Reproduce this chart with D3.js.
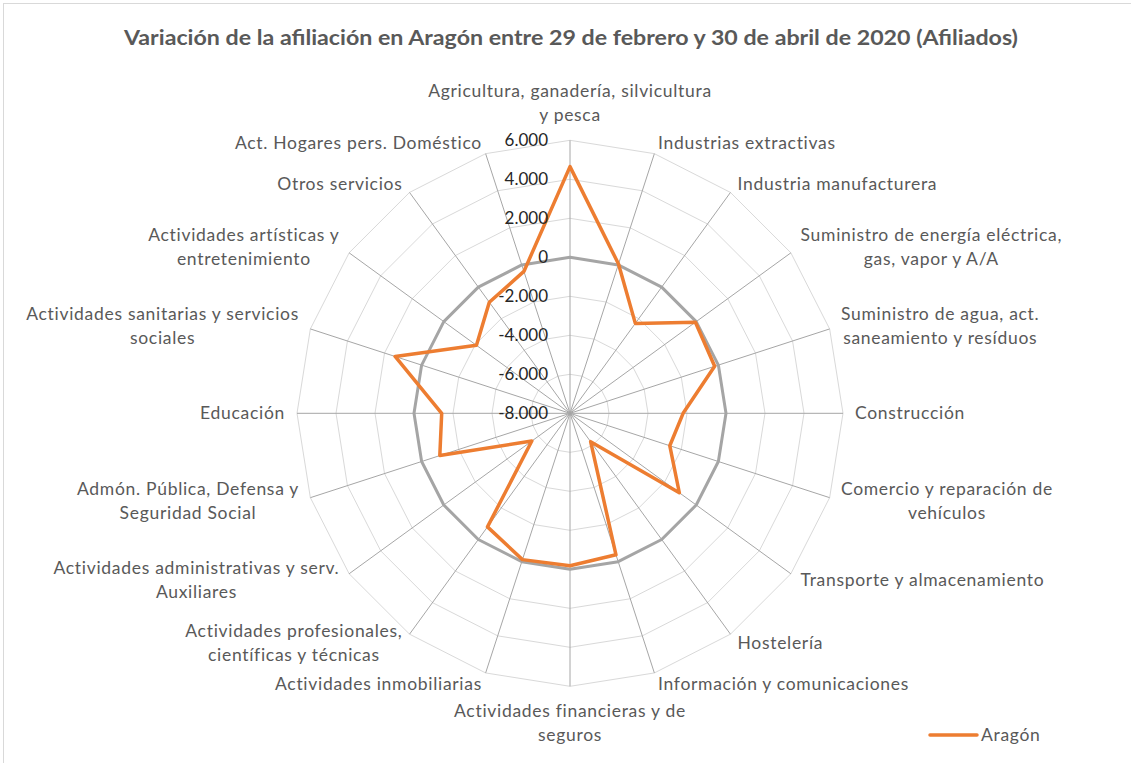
<!DOCTYPE html>
<html>
<head>
<meta charset="utf-8">
<script src="https://cdn.jsdelivr.net/npm/d3@7"></script>
<style>
  body { margin: 0; background: #fff; }
  text { font-family: Lato, "Noto Sans", sans-serif; }
</style>
</head>
<body>
<div id="chart"></div>
<script>
// categories, clockwise from the top (each entry = lines of the label)
var categories = [
  ["Agricultura, ganadería, silvicultura", "y pesca"],
  ["Industrias extractivas"],
  ["Industria manufacturera"],
  ["Suministro de energía eléctrica,", "gas, vapor y A/A"],
  ["Suministro de agua, act.", "saneamiento y resíduos"],
  ["Construcción"],
  ["Comercio y reparación de", "vehículos"],
  ["Transporte y almacenamiento"],
  ["Hostelería"],
  ["Información y comunicaciones"],
  ["Actividades financieras y de", "seguros"],
  ["Actividades inmobiliarias"],
  ["Actividades profesionales,", "científicas y técnicas"],
  ["Actividades administrativas y serv.", "Auxiliares"],
  ["Admón. Pública, Defensa y", "Seguridad Social"],
  ["Educación"],
  ["Actividades sanitarias y servicios", "sociales"],
  ["Actividades artísticas y", "entretenimiento"],
  ["Otros servicios"],
  ["Act. Hogares pers. Doméstico"]
];

var aragon = [4650, 50, -2300, -50, -200, -2200, -2620, -1070, -6200, -370,
              -180, -110, -800, -5580, -980, -1420, 1430, -2070, -960, -350];

var zeroLine = categories.map(function() { return 0; });

var tickValues = [-8000, -6000, -4000, -2000, 0, 2000, 4000, 6000];

var width = 1131, height = 763,
  cx = 570, cy = 413.3, radius = 273;

var fmt = function(v) {
  return v === 0 ? "0" : d3.format(",")(v).replace(/,/g, ".").replace("−", "-");
};

var rScale = d3.scaleLinear()
  .domain([-8000, 6000])
  .range([0, radius]);

var step = 2 * Math.PI / categories.length;

function pt(i, v) {
  var a = i * step, r = rScale(v);
  return [Math.sin(a) * r, -Math.cos(a) * r];
}

var svg = d3.select("#chart")
  .append("svg")
  .attr("width", width)
  .attr("height", height);

// chart frame (only left and top visible)
svg.append("rect")
  .attr("x", 3.5).attr("y", 3.5)
  .attr("width", width + 10).attr("height", height + 10)
  .attr("fill", "none")
  .attr("stroke", "#d9d9d9");

svg.append("text")
  .attr("x", 571)
  .attr("y", 45)
  .attr("text-anchor", "middle")
  .attr("font-size", "20.5px")
  .attr("font-weight", "bold")
  .attr("fill", "#595959")
  .attr("textLength", 894)
  .attr("lengthAdjust", "spacingAndGlyphs")
  .text("Variación de la afiliación en Aragón entre 29 de febrero y 30 de abril de 2020 (Afiliados)");

var g = svg.append("g")
  .attr("transform", "translate(" + cx + "," + cy + ")");

// grid rings
var ringLine = d3.line().curve(d3.curveLinearClosed);
g.selectAll(".ring")
  .data(tickValues.slice(1))
  .enter()
  .append("path")
  .attr("class", "ring")
  .attr("d", function(t) {
    return ringLine(categories.map(function(c, i) { return pt(i, t); }));
  })
  .attr("fill", "none")
  .attr("stroke", "#d9d9d9")
  .attr("stroke-width", 1);

// spokes
g.selectAll(".spoke")
  .data(categories)
  .enter()
  .append("line")
  .attr("class", "spoke")
  .attr("x1", 0).attr("y1", 0)
  .attr("x2", function(d, i) { return pt(i, 6000)[0]; })
  .attr("y2", function(d, i) { return pt(i, 6000)[1]; })
  .attr("stroke", "#a6a6a6")
  .attr("stroke-width", 1);

// zero series
g.append("path")
  .attr("d", ringLine(zeroLine.map(function(v, i) { return pt(i, v); })))
  .attr("fill", "none")
  .attr("stroke", "#a5a5a5")
  .attr("stroke-width", 3)
  .attr("stroke-linejoin", "round");

// Aragón series
g.append("path")
  .attr("d", ringLine(aragon.map(function(v, i) { return pt(i, v); })))
  .attr("fill", "none")
  .attr("stroke", "#ed7d31")
  .attr("stroke-width", 3.5)
  .attr("stroke-linejoin", "round");

// value axis labels
g.selectAll(".tick")
  .data(tickValues)
  .enter()
  .append("text")
  .attr("class", "tick")
  .attr("x", -22)
  .attr("y", function(t) { return -rScale(t); })
  .attr("dy", "0.35em")
  .attr("text-anchor", "end")
  .attr("font-size", "17px")
  .attr("fill", "#262626")
  .text(fmt);

// category labels
var lineH = 24;
categories.forEach(function(lines, i) {
  var a = i * step, s = Math.sin(a), c = Math.cos(a);
  var end = pt(i, 6000);
  var lab = g.append("text")
    .attr("font-size", "17.5px")
    .attr("letter-spacing", "0.7px")
    .attr("fill", "#595959")
    .attr("text-anchor", "middle");
  var spans = lab.selectAll("tspan")
    .data(lines)
    .enter()
    .append("tspan")
    .text(function(d) { return d; });
  var w = d3.max(spans.nodes(), function(n) { return n.getComputedTextLength(); });
  var n = lines.length, bx, by;
  if (Math.abs(s) < 0.1) {
    bx = end[0];
    by = c > 0 ? end[1] - 13 - n * lineH / 2 : end[1] + 13 + n * lineH / 2;
  } else {
    bx = s > 0 ? end[0] + 12 * s + w / 2 : end[0] + 12 * s - w / 2;
    by = end[1] - 11 * c;
  }
  spans
    .attr("x", bx)
    .attr("y", function(d, k) { return by + (k - (n - 1) / 2) * lineH; })
    .attr("dy", "0.35em");
});

// legend
var leg = svg.append("g").attr("transform", "translate(930,735)");
leg.append("line")
  .attr("x1", 0).attr("x2", 47)
  .attr("stroke", "#ed7d31")
  .attr("stroke-width", 3.5)
  .attr("stroke-linecap", "round");
leg.append("text")
  .attr("x", 51)
  .attr("dy", "0.35em")
  .attr("font-size", "17.5px")
  .attr("letter-spacing", "0.7px")
  .attr("fill", "#595959")
  .text("Aragón");
</script>
</body>
</html>
